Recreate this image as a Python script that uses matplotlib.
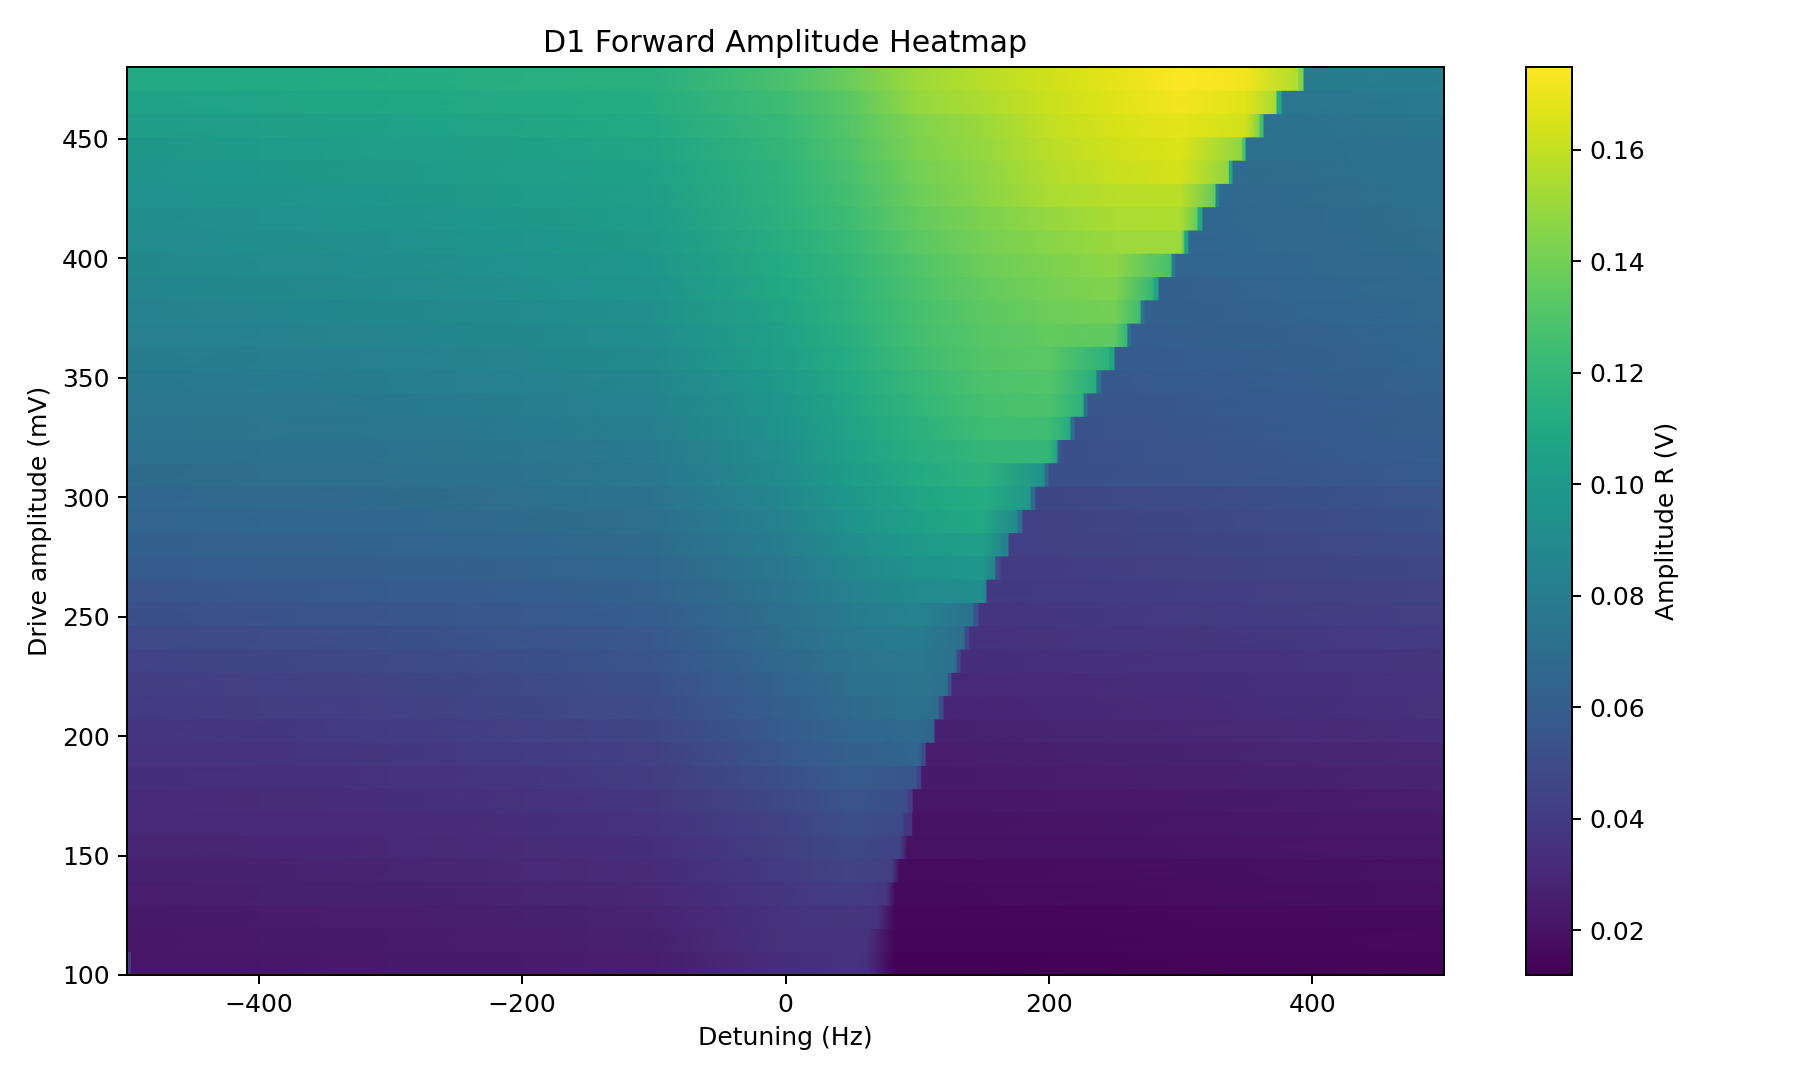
import matplotlib
matplotlib.use('Agg')
import matplotlib.pyplot as plt
from matplotlib.cm import ScalarMappable
from matplotlib.colors import Normalize
import numpy as np

# Row edges of the scan, one band per drive step
y_bottom = 100
y_top = 480
n_rows = 39

# Detuning columns where the branch before the jump was read (Hz)
grid_hz = [-500, -400, -300, -200, -100, 0, 50, 100, 150, 200, 250, 300, 350]

# Amplitude (mV) on the branch before the jump, bottom row first, one entry per grid column left of the jump
upper_mv = [
    [21, 22, 23, 24, 25, 33, 36],
    [22, 23, 24, 25, 27, 35, 36],
    [23, 24, 25, 26, 28, 36, 38],
    [25, 26, 26, 28, 30, 38, 41],
    [27, 27, 28, 30, 32, 40, 45],
    [28, 29, 30, 32, 34, 42, 48],
    [30, 30, 31, 33, 36, 44, 51],
    [31, 32, 33, 35, 38, 48, 55],
    [33, 34, 35, 37, 41, 52, 58],
    [35, 36, 38, 40, 43, 56, 62, 65],
    [37, 38, 40, 43, 46, 59, 65, 68],
    [39, 41, 43, 46, 49, 61, 68, 72],
    [41, 43, 45, 48, 52, 64, 71, 75],
    [44, 46, 48, 51, 55, 67, 74, 77],
    [48, 50, 51, 54, 57, 70, 77, 80],
    [52, 53, 55, 57, 60, 72, 80, 85],
    [55, 56, 58, 60, 63, 75, 84, 90, 92],
    [59, 60, 61, 63, 66, 78, 88, 95, 98],
    [62, 63, 64, 66, 69, 81, 92, 100, 104],
    [64, 65, 66, 69, 71, 85, 96, 105, 110],
    [66, 67, 69, 71, 74, 88, 99, 108, 113],
    [69, 70, 71, 74, 77, 91, 102, 111, 117],
    [71, 72, 74, 76, 79, 93, 105, 114, 120, 120],
    [74, 75, 76, 79, 82, 96, 107, 116, 124, 125],
    [76, 77, 78, 81, 85, 98, 109, 119, 127, 129],
    [78, 79, 81, 84, 87, 101, 111, 121, 129, 131],
    [80, 81, 83, 86, 90, 104, 113, 124, 131, 133],
    [82, 84, 86, 88, 92, 106, 115, 126, 132, 136, 135],
    [84, 86, 88, 90, 94, 108, 117, 127, 134, 138, 141],
    [86, 88, 90, 93, 96, 110, 118, 129, 136, 141, 144],
    [88, 90, 92, 95, 98, 112, 120, 130, 138, 143, 147],
    [90, 92, 94, 97, 100, 114, 122, 134, 141, 146, 150, 150],
    [92, 94, 96, 99, 102, 116, 124, 136, 143, 149, 154, 155],
    [94, 96, 98, 101, 104, 117, 126, 138, 146, 154, 157, 158],
    [96, 98, 100, 103, 106, 118, 128, 140, 147, 156, 161, 164],
    [99, 101, 103, 105, 108, 120, 130, 143, 149, 158, 163, 166],
    [102, 104, 106, 108, 111, 122, 132, 144, 150, 160, 165, 168, 163],
    [106, 107, 109, 111, 113, 124, 134, 149, 155, 162, 167, 172, 167],
    [110, 111, 112, 114, 115, 128, 138, 151, 157, 163, 168, 175, 171],
]

# Where each row leaves the upper branch and where it lands on the lower one (Hz)
jump_start_hz = [62.7, 62.7, 70.5, 76.9, 80.7, 87, 90, 93.3, 100, 103.7, 113.5, 116.8, 123.4,
                 130.2, 136.3, 143.1, 153, 159.8, 166.7, 176.5, 186.4, 197, 206.9, 216.8, 226.7,
                 236.5, 246.2, 260, 270, 279.8, 293.5, 303.3, 313.2, 326.9, 337, 346.9, 360.3,
                 373.2, 389.9]
jump_end_hz = [83, 83, 83, 83, 87, 93, 96.6, 96.9, 103.4, 106.9, 113.5, 120.4, 126.4,
               133.3, 140.1, 146.9, 153, 163.6, 169.7, 180.3, 190.2, 200.1, 209.9, 219.8, 229.7,
               240.3, 250.2, 263, 273, 283.6, 296.5, 306.4, 317, 329.9, 339.8, 349.7, 363.3,
               377, 393.7]

# Amplitude (mV) right at the end of the upper branch
upper_end_mv = [34, 35, 36, 38, 42, 44, 48, 50, 55, 59, 63, 69, 72,
                72, 70, 72, 77, 82, 85, 88, 98, 94, 103, 111, 116,
                113, 116, 118, 123, 120, 126, 128, 136, 136, 147, 147, 142,
                153, 155]

# The single in-between column at the jump (mV), None where the step is a smooth ramp
fringe_mv = [None, None, None, None, None, None, 37, 40, 44, 48, None, 50, 53,
             47, 47, 53, None, 50, 82, 69, 69, 69, 57, 69, 72,
             72, 108, 70, 76, 108, 79, 106, 111, 85, 111, 129, 126,
             111, 144]

# Lower branch (mV): value at landing and at +500 Hz
lower_start_mv = [13, 14, 15, 16, 17, 19, 20, 21, 23, 25, 27, 29, 31,
                  33, 35, 37, 39, 40, 42, 43, 46, 51, 52, 53, 55,
                  56, 58, 60, 61, 62, 64, 65, 66, 67, 69, 71, 73,
                  76, 80]
lower_end_mv = [15, 16, 17, 19, 20, 22, 23, 25, 28, 30, 33, 35, 36,
                38, 40, 43, 45, 47, 50, 53, 55, 58, 60, 61, 62,
                64, 65, 66, 67, 68, 69, 70, 71, 72, 73, 74, 76,
                79, 81]

# Odd first sample in the lowest row
stray_mv = 40
stray_width_hz = 2.8

vmin = 0.012
vmax = 0.1748
norm = Normalize(vmin=vmin, vmax=vmax)

W, H = 1800, 1080
fig = plt.figure(figsize=(10, 6), dpi=180)
ax = fig.add_axes([127 / W, 1 - 975 / H, 1317 / W, 908 / H])
cax = fig.add_axes([1526 / W, 1 - 975 / H, 46 / W, 908 / H])

edges = np.linspace(y_bottom, y_top, n_rows + 1)
for i in range(n_rows):
    n_pts = len(upper_mv[i])
    x_row = list(grid_hz[:n_pts]) + [jump_start_hz[i]]
    v_row = list(upper_mv[i]) + [upper_end_mv[i]]
    if fringe_mv[i] is not None:
        x_row += [jump_start_hz[i], jump_end_hz[i]]
        v_row += [fringe_mv[i], fringe_mv[i]]
    x_row += [jump_end_hz[i], 500]
    v_row += [lower_start_mv[i], lower_end_mv[i]]

    X = np.array([x_row, x_row])
    Y = np.array([[edges[i]] * len(x_row), [edges[i + 1]] * len(x_row)])
    C = np.array([v_row, v_row]) / 1000
    ax.pcolormesh(X, Y, C, shading='gouraud', cmap='viridis', norm=norm, rasterized=True)

ax.pcolormesh([-500, -500 + stray_width_hz], edges[:2], [[stray_mv / 1000]], cmap='viridis', norm=norm)

ax.set_xlim(-500, 500)
ax.set_ylim(y_bottom, y_top)
ax.set_xlabel('Detuning (Hz)')
ax.set_ylabel('Drive amplitude (mV)')
ax.set_title('D1 Forward Amplitude Heatmap')

fig.colorbar(ScalarMappable(norm=norm, cmap='viridis'), cax=cax, label='Amplitude R (V)')

fig.savefig('out.png', dpi=180)
